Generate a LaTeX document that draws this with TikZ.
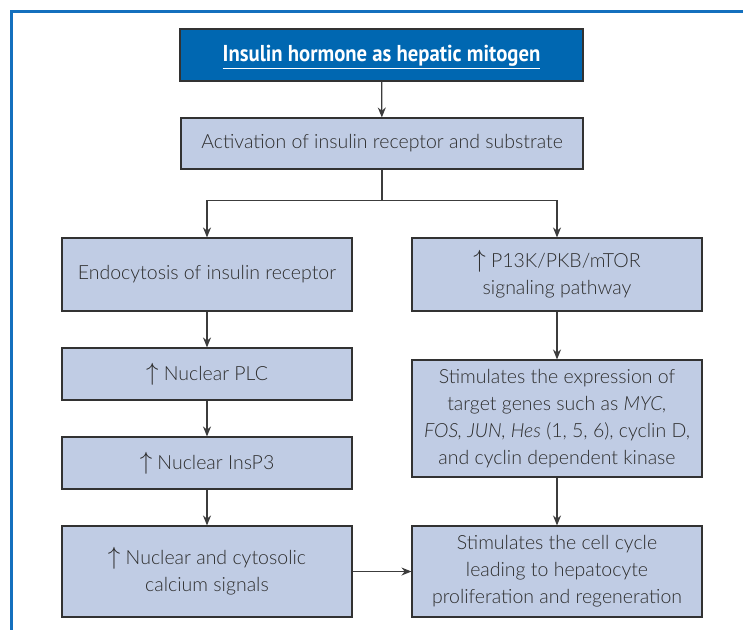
\documentclass[tikz,border=0pt]{standalone}
\usepackage{fontspec}
\setmainfont{Lato}[UprightFont=* Light, ItalicFont=* Light Italic]
\newfontfamily\titlefont{PT Sans}
\usetikzlibrary{arrows.meta}
\definecolor{framebl}{RGB}{20,112,190}
\definecolor{titlebl}{RGB}{0,103,177}
\definecolor{boxfill}{RGB}{192,204,228}
\definecolor{boxline}{RGB}{50,50,50}
\definecolor{txt}{RGB}{45,45,45}
\definecolor{conn}{RGB}{60,60,60}
\newcommand{\upar}{{\fontsize{24}{27}\selectfont$\uparrow$}}
\tikzset{
  flowbox/.style={draw=boxline, line width=1.1pt, fill=boxfill, text=txt,
    minimum width=290pt, align=center, inner sep=0pt,
    font=\fontsize{19.5}{27}\selectfont},
  titlebox/.style={draw=boxline, line width=1.1pt, fill=titlebl, text=white,
    minimum width=403pt, minimum height=52pt, inner sep=0pt,
    text height=13pt, text depth=0pt},
  actbox/.style={flowbox, minimum width=402pt},
  conn/.style={draw=conn, line width=1.2pt},
  arr/.style={conn, -{Stealth[length=10pt,width=8pt]}}
}
\begin{document}
\begin{tikzpicture}[x=1pt,y=-1pt]
\useasboundingbox (0,0) rectangle (743,630);
\draw[framebl, line width=3pt] (743,11.5) -- (11,11.5) -- (11,630);
\node[titlebox] (title) at (381.5,55) {\titlefont\bfseries\fontsize{23}{27}\selectfont\scalebox{0.9}[1]{\underline{Insulin hormone as hepatic mitogen}}};
\node[actbox, minimum height=51pt] (act) at (382,143.5) {Activation of insulin receptor and substrate};
\node[flowbox, minimum height=73pt] (endo) at (207,274.5) {Endocytosis of insulin receptor};
\node[flowbox, minimum height=73pt] (pi3k) at (557,274.5) {\upar\ P13K/PKB/mTOR\\signaling pathway};
\node[flowbox, minimum height=52pt] (plc) at (207,374) {\upar\ Nuclear PLC};
\node[flowbox, minimum height=52pt] (insp) at (207,463) {\upar\ Nuclear InsP3};
\node[flowbox, minimum height=117pt] (expr) at (557,418.5) {Stimulates the expression of\\target genes such as \textit{MYC,}\\\textit{FOS, JUN, Hes} (1, 5, 6), cyclin D,\\and cyclin dependent kinase};
\node[flowbox, minimum height=91pt] (calc) at (207,571.5) {\upar\ Nuclear and cytosolic\\calcium signals};
\node[flowbox, minimum height=91pt] (cycle) at (557,571.5) {Stimulates the cell cycle\\leading to hepatocyte\\proliferation and regeneration};
\draw[arr] (title) -- (act);
\draw[conn] (act.south) -- ++(0,31) coordinate (split);
\draw[arr] (split) -| (endo.north);
\draw[arr] (split) -| (pi3k.north);
\draw[arr] (endo) -- (plc);
\draw[arr] (plc) -- (insp);
\draw[arr] (insp) -- (calc);
\draw[arr] (pi3k) -- (expr);
\draw[arr] (expr) -- (cycle);
\draw[arr] (calc) -- (cycle);
\end{tikzpicture}
\end{document}
